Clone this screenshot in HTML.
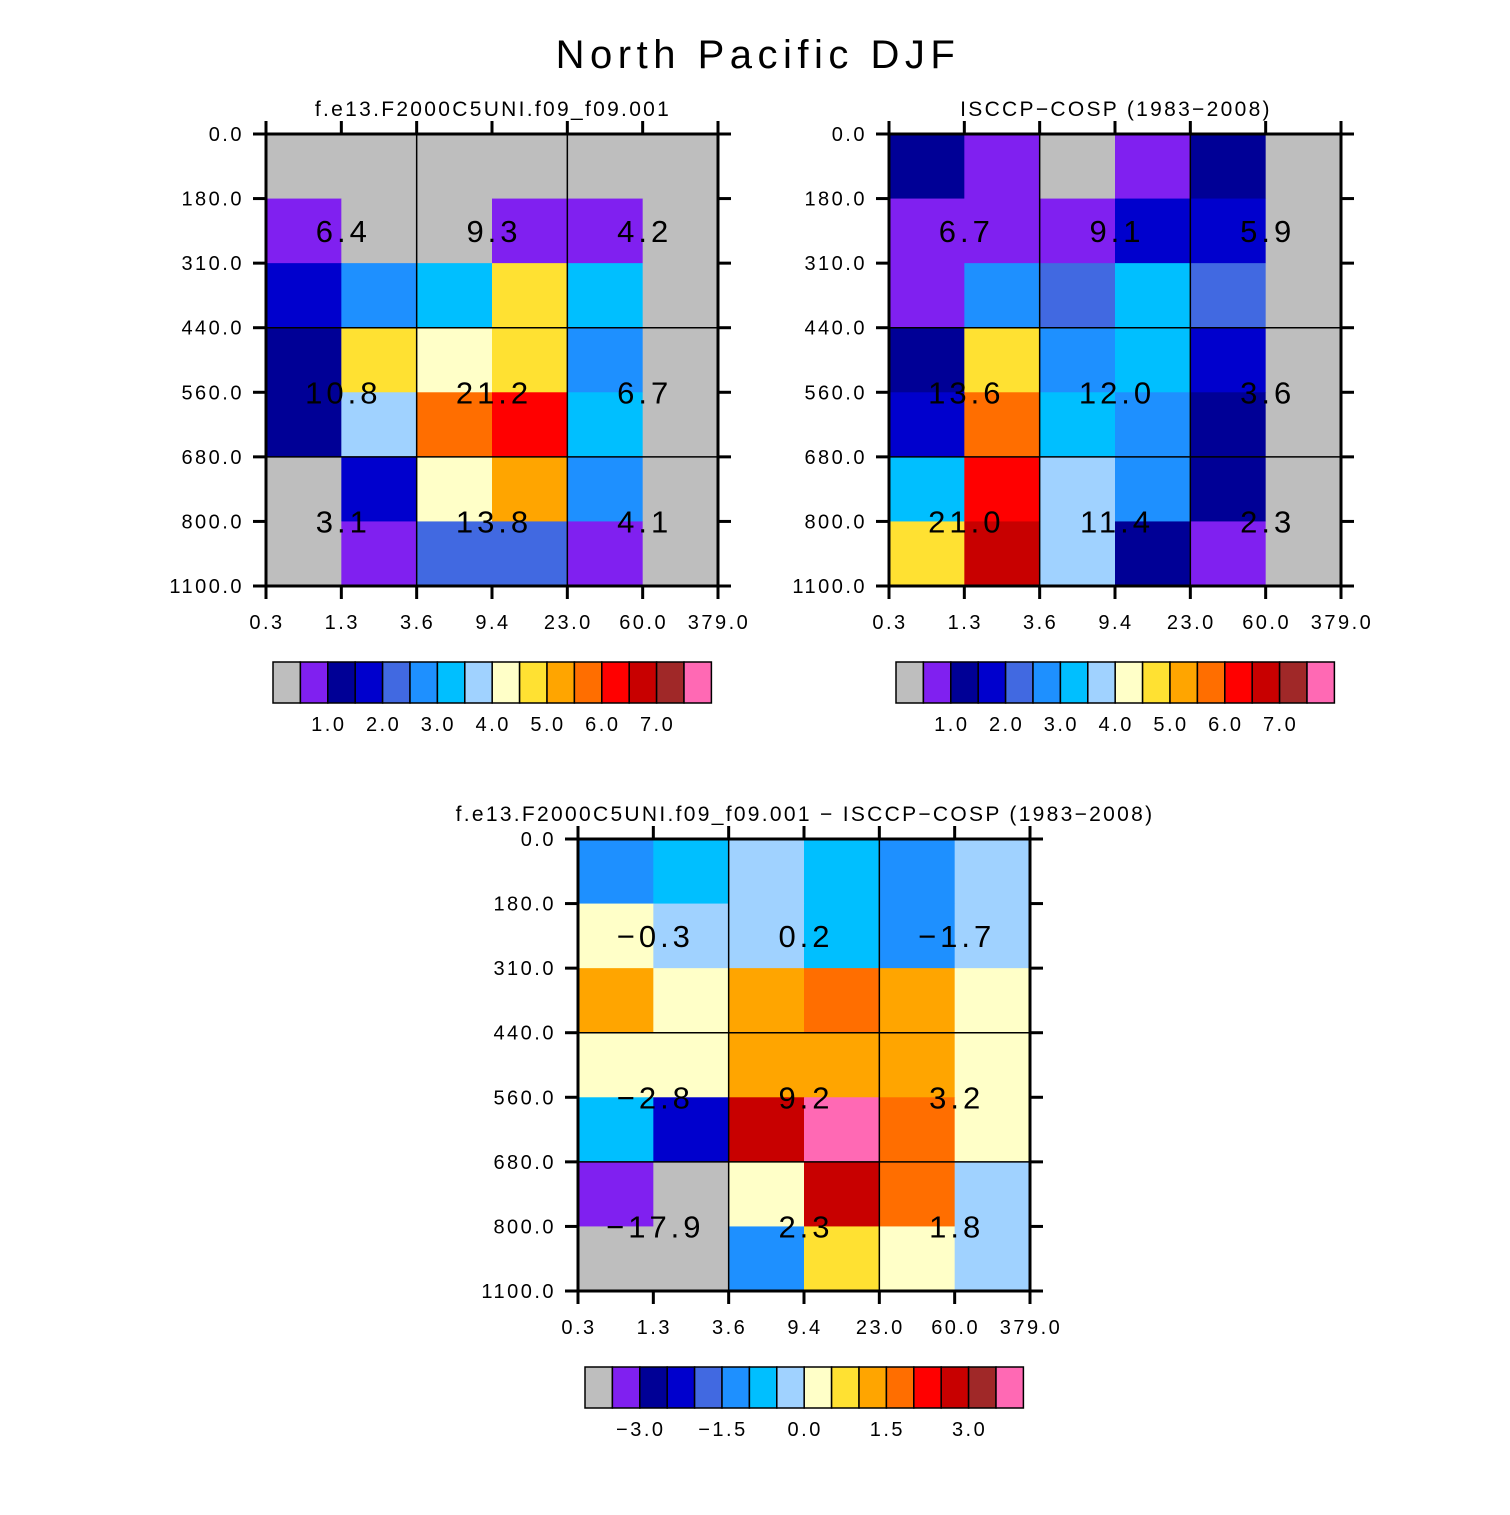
<!DOCTYPE html>
<html><head><meta charset="utf-8"><style>
body{margin:0;background:#fff}
svg text{font-family:"Liberation Sans",sans-serif;fill:#000}
</style></head><body>
<svg id="s" width="1510" height="1510" xmlns="http://www.w3.org/2000/svg">
<text x="758" y="68" font-size="40" text-anchor="middle" letter-spacing="5.5">North Pacific DJF</text>
</svg>
<script>
const palette=["#BEBEBE","#8020F0","#000096","#0000CD","#4169E1","#1E90FF","#00BFFF","#A0D2FF","#FFFFC8","#FFE132","#FFA500","#FF6E00","#FF0000","#C80000","#A02828","#FF69B4"];
const yLabels=["0.0","180.0","310.0","440.0","560.0","680.0","800.0","1100.0"];
const xLabels=["0.3","1.3","3.6","9.4","23.0","60.0","379.0"];
const cells1=[[0,0,0,0,0,0],[1,0,0,1,1,0],[3,5,6,9,6,0],[2,9,8,9,5,0],[2,7,11,12,6,0],[0,3,8,10,5,0],[0,1,4,4,1,0]];
const cells2=[[2,1,0,1,2,0],[1,1,1,3,3,0],[1,5,4,6,4,0],[2,9,5,6,3,0],[3,11,6,5,2,0],[6,12,7,5,2,0],[9,13,7,2,1,0]];
const cells3=[[5,6,7,6,5,7],[8,7,7,6,5,7],[10,8,10,11,10,8],[8,8,10,10,10,8],[6,3,13,15,11,8],[1,0,8,13,11,7],[0,0,5,9,8,7]];
const vals1=[["6.4","9.3","4.2"],["10.8","21.2","6.7"],["3.1","13.8","4.1"]];
const vals2=[["6.7","9.1","5.9"],["13.6","12.0","3.6"],["21.0","11.4","2.3"]];
const vals3=[["\u22120.3","0.2","\u22121.7"],["\u22122.8","9.2","3.2"],["\u221217.9","2.3","1.8"]];
const cbLabels12=["1.0","2.0","3.0","4.0","5.0","6.0","7.0"];
const cbLabelPos12=[2,4,6,8,10,12,14];
const cbLabels3=["\u22123.0","\u22121.5","0.0","1.5","3.0"];
const cbLabelPos3=[2,5,8,11,14];

const S=document.getElementById('s');
const NS="http://www.w3.org/2000/svg";
function mk(tag,at,parent){const e=document.createElementNS(NS,tag);for(const k in at)e.setAttribute(k,at[k]);(parent||S).appendChild(e);return e;}

function panel(px,py,title,cells,vals,cbx,cby,cbL,cbP,name){
  const W=452,H=452,cw=W/6,rh=H/7;
  const g=mk('g',{});
  
  
  const t=mk('text',{x:px+W/2+1,y:py-18,'font-size':21,'text-anchor':'middle','letter-spacing':2.3},g);t.textContent=title;
  
  
  cells.forEach((row,r)=>row.forEach((c,ci)=>{
    const rc=mk('rect',{x:px+ci*cw,y:py+r*rh,width:cw+0.5,height:rh+0.5,fill:palette[c]},g);
    
    
  }));
  [2,4].forEach(i=>mk('line',{x1:px+i*cw,x2:px+i*cw,y1:py,y2:py+H,stroke:'#000','stroke-width':1.5},g));
  [3,5].forEach(i=>mk('line',{x1:px,x2:px+W,y1:py+i*rh,y2:py+i*rh,stroke:'#000','stroke-width':1.5},g));
  vals.forEach((row,r)=>row.forEach((v,c)=>{
    const tx=mk('text',{x:px+(2*c+1)*cw+2,y:py+[1.5,4,6][r]*rh+11,'font-size':31,'text-anchor':'middle','letter-spacing':4},g);tx.textContent=v;
    
    
  }));
  mk('rect',{x:px,y:py,width:W,height:H,fill:'none',stroke:'#000','stroke-width':3},g);
  yLabels.forEach((l,i)=>{
    const y=py+i*rh;
    mk('line',{x1:px-13,x2:px,y1:y,y2:y,stroke:'#000','stroke-width':3},g);
    mk('line',{x1:px+W,x2:px+W+13,y1:y,y2:y,stroke:'#000','stroke-width':3},g);
    const tx=mk('text',{x:px-22,y:y+7,'font-size':20,'text-anchor':'end','letter-spacing':2.5},g);tx.textContent=l;
    
    
  });
  xLabels.forEach((l,i)=>{
    const x=px+i*cw;
    mk('line',{x1:x,x2:x,y1:py+H,y2:py+H+13,stroke:'#000','stroke-width':3},g);
    mk('line',{x1:x,x2:x,y1:py-13,y2:py,stroke:'#000','stroke-width':3},g);
    const tx=mk('text',{x:x+1,y:py+H+43,'font-size':20,'text-anchor':'middle','letter-spacing':2.5},g);tx.textContent=l;
    
    
  });
  const bw=27.4,bh=41;
  palette.forEach((c,i)=>{
    const b=mk('rect',{x:cbx+i*bw,y:cby,width:bw,height:bh,fill:c,stroke:'#000','stroke-width':1.5},g);
    
    
  });
  cbL.forEach((l,i)=>{
    const tx=mk('text',{x:cbx+cbP[i]*bw+1,y:cby+bh+28,'font-size':20,'text-anchor':'middle','letter-spacing':2.5},g);tx.textContent=l;
    
    
  });
}
panel(266,134,"f.e13.F2000C5UNI.f09_f09.001",cells1,vals1,273,662,cbLabels12,cbLabelPos12,'panel-model');
panel(889,134,"ISCCP\u2212COSP (1983\u22122008)",cells2,vals2,896,662,cbLabels12,cbLabelPos12,'panel-obs');
panel(578,839,"f.e13.F2000C5UNI.f09_f09.001 \u2212 ISCCP\u2212COSP (1983\u22122008)",cells3,vals3,585,1367,cbLabels3,cbLabelPos3,'panel-diff');
</script>
</body></html>
